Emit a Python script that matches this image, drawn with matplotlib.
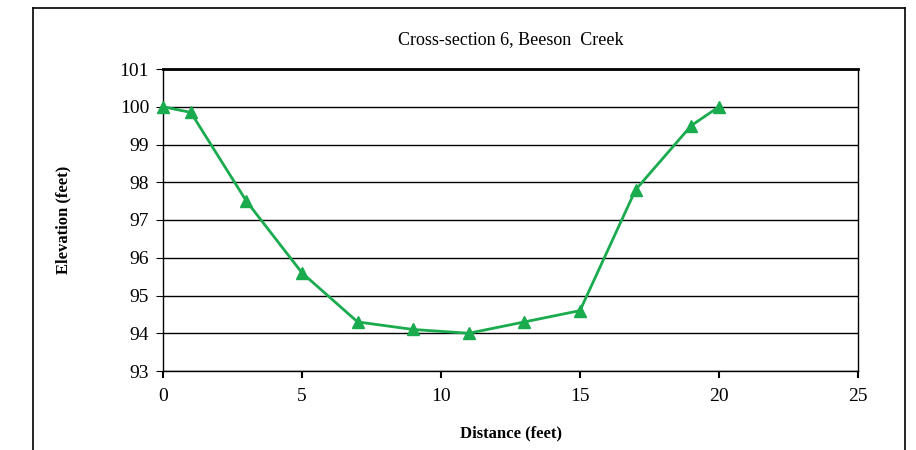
import matplotlib.pyplot as plt
from matplotlib.lines import Line2D

distance = [0, 1, 3, 5, 7, 9, 11, 13, 15, 17, 19, 20]
elevation = [100.0, 99.85, 97.5, 95.6, 94.3, 94.1, 94.0, 94.3, 94.6, 97.8, 99.5, 100.0]

plt.rcParams['font.family'] = ['Liberation Serif', 'DejaVu Serif']

fig = plt.figure(figsize=(9.16, 4.5), dpi=100)
ax = fig.add_axes([163/916, 1 - 371/450, (858 - 163)/916, (371 - 69)/450])

# outer chart frame
for xs, ys in [([33/916, 33/916], [0, 1 - 8/450]),
               ([33/916, 905/916], [1 - 8/450, 1 - 8/450]),
               ([905/916, 905/916], [1 - 8/450, 0])]:
    fig.add_artist(Line2D(xs, ys, color='black', lw=1.2, transform=fig.transFigure))

ax.plot(distance, elevation, color='#1aab4f', lw=2, marker='^', markersize=8,
        markeredgecolor='#1aab4f', clip_on=False, zorder=3)

ax.set_xlim(0, 25)
ax.set_ylim(93, 101)
ax.set_xticks(range(0, 26, 5))
ax.set_yticks(range(93, 102))
ax.yaxis.grid(True, color='black', lw=1)
ax.set_axisbelow(True)
for s in ax.spines.values():
    s.set_color('black')
    s.set_linewidth(1)
ax.spines['top'].set_linewidth(2)
ax.tick_params(axis='both', labelsize=14, direction='out', length=5, color='black')
ax.tick_params(axis='x', width=1.5, pad=7)
ax.tick_params(axis='y', pad=5)

ax.set_title('Cross-section 6, Beeson  Creek', fontsize=13, pad=18)
ax.set_xlabel('Distance (feet)', fontsize=12, fontweight='bold', labelpad=15)
ax.set_ylabel('Elevation (feet)', fontsize=12, fontweight='bold', labelpad=35)

fig.savefig('out.png', dpi=100)
